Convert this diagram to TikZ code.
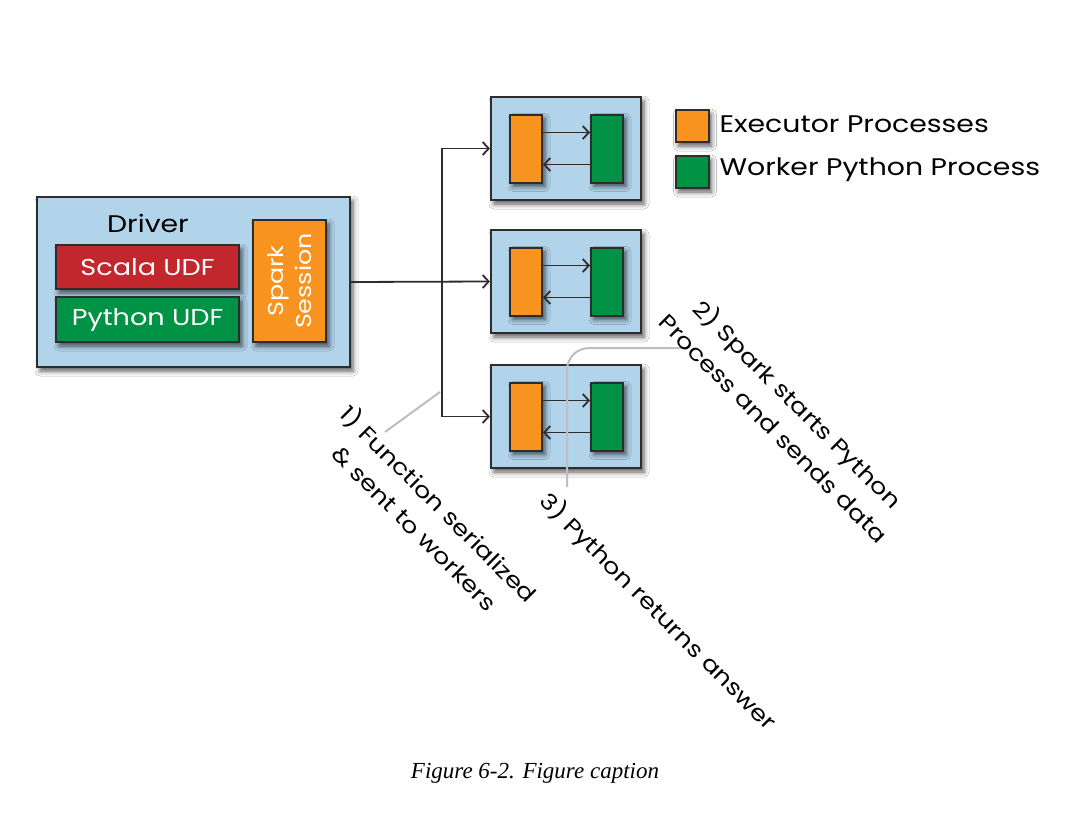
\documentclass[tikz,border=0pt]{standalone}
\usepackage{fontspec}
\setmainfont{Poppins}[FakeStretch=1.18]
\newfontfamily\capfont{Liberation Serif}
\usetikzlibrary{arrows.meta,shadows.blur}
\definecolor{boxblue}{RGB}{178,212,235}
\definecolor{edgegray}{RGB}{45,45,45}
\definecolor{udfred}{RGB}{193,39,45}
\definecolor{udfgreen}{RGB}{0,146,69}
\definecolor{execorange}{RGB}{247,147,30}
\definecolor{notegray}{RGB}{190,190,190}
\tikzset{
  hand/.style={font=\fontsize{24}{35}\selectfont},
  shadowed/.style={blur shadow={shadow xshift=3pt,shadow yshift=-4pt,shadow blur radius=5pt,shadow opacity=65}},
  panel/.style={draw=edgegray,line width=2.2pt,fill=boxblue,inner sep=0pt,shadowed},
  proc/.style={draw=edgegray,line width=2pt,inner sep=0pt,shadowed},
  udf/.style={proc,text=white,font=\fontsize{23}{28}\selectfont},
  conn/.style={draw=edgegray,line width=1.8pt,-{Straight Barb[length=6pt,width=13pt,line width=1.8pt]}},
  note/.style={draw=notegray,line width=2pt},
  annot/.style={font=\fontsize{22}{34}\selectfont,rotate=-45,align=center,inner sep=0pt}
}
\begin{document}
\begin{tikzpicture}[x=1pt,y=-1pt]
\useasboundingbox[fill=white] (0,0) rectangle (1090,816);

% Driver
\node[panel,minimum width=313pt,minimum height=170pt] (driver) at (193.5,282) {};
\node[hand] (drvlabel) at (148,223) {Driver};
\node[udf,fill=udfred,minimum width=183pt,minimum height=44pt] (scala) at (147.5,267) {Scala UDF};
\node[udf,fill=udfgreen,minimum width=183pt,minimum height=45pt] (pyudf) at (147.5,319.5) {Python UDF};
\node[proc,fill=execorange,minimum width=73pt,minimum height=122pt] (spark) at (289.5,281) {};
\node[text=white,rotate=90,align=center,inner sep=0pt,font=\fontsize{21.5}{28}\selectfont] (sparktxt) at (spark) {Spark\\Session};

% Executors
\foreach \i/\y in {1/148.5,2/281.5,3/416.5}{
  \node[panel,minimum width=150pt,minimum height=103pt] (exec\i) at (566,\y) {};
  \node[proc,fill=execorange,minimum width=32pt,minimum height=68pt] (ex\i) at (526,\y) {};
  \node[proc,fill=udfgreen,minimum width=32pt,minimum height=68pt] (wk\i) at (607,\y) {};
  \draw[conn] ([yshift=16pt]ex\i.east) -- ([yshift=16pt]wk\i.west);
  \draw[conn] ([yshift=-16pt]wk\i.west) -- ([yshift=-16pt]ex\i.east);
}

% Connectors from driver
\draw[conn] (driver.east) -- (exec2.west);
\coordinate (split) at (442,282);
\draw[conn] (split) |- (exec1.west);
\draw[conn] (split) |- (exec3.west);

% Legend
\node[proc,fill=execorange,minimum width=33pt,minimum height=32pt] (legex) at (692,126) {};
\node[hand,anchor=west] (legextxt) at (716,124) {Executor Processes};
\node[proc,fill=udfgreen,minimum width=33pt,minimum height=32pt] (legwk) at (692,172) {};
\node[hand,anchor=west] (legwktxt) at (716,170) {Worker Python Process};

% Annotations
\coordinate (n1a) at (440,392);
\coordinate (n1b) at (385,432);
\draw[note] (n1a) -- (n1b);
\coordinate (n2a) at (687,348);
\coordinate (n2b) at (567,487);
\draw[note,rounded corners=22pt] (n2a) -- (n2b |- n2a) -- (n2b);

\node[annot] (lab1) at (428,515) {1) Function serialized\\\& sent to workers};
\node[annot] (lab2) at (787,415) {2) Spark starts Python\\Process and sends data};
\node[annot] (lab3) at (658,612) {3) Python returns answer};

% Caption
\node[font=\capfont\itshape\fontsize{23}{27}\selectfont] (caption) at (535,773) {Figure 6-2. Figure caption};
\end{tikzpicture}
\end{document}
